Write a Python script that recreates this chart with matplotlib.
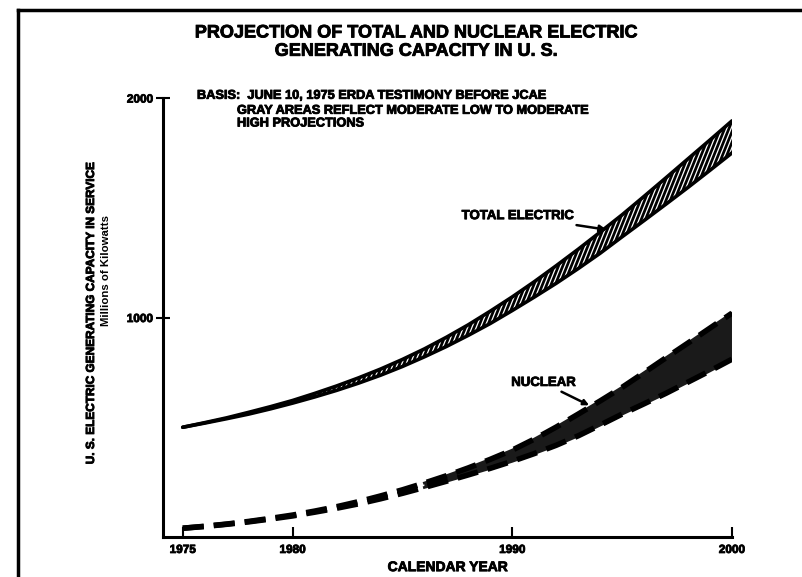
import matplotlib
matplotlib.use("Agg")
import numpy as np
import matplotlib.pyplot as plt
import matplotlib.patheffects as pe
from matplotlib.lines import Line2D
from matplotlib.collections import LineCollection

plt.rcParams["font.family"] = ["Liberation Sans", "DejaVu Sans"]
plt.rcParams["font.weight"] = "bold"

# Projection data (millions of kW)
years = list(range(1975, 2001))
total_high = [500, 521, 543, 568, 594, 622, 654, 688, 725, 765, 809, 857, 910,
              967, 1029, 1094, 1163, 1236, 1311, 1389, 1468, 1552, 1637, 1723, 1809, 1896]
total_low = [500, 519, 539, 560, 584, 610, 638, 668, 701, 737, 777, 821, 868,
             919, 973, 1032, 1093, 1156, 1223, 1293, 1368, 1442, 1517, 1593, 1671, 1750]
nuc_high = [40, 49, 59, 71, 85, 100, 118, 138, 161, 187, 215, 246, 279,
            315, 354, 396, 446, 501, 560, 620, 682, 749, 817, 884, 952, 1020]
nuc_low = [40, 48, 58, 69, 82, 96, 113, 131, 151, 174, 199, 226, 254,
           283, 313, 345, 380, 418, 461, 510, 560, 607, 655, 706, 757, 810]

xticks = [1975, 1980, 1990, 2000]
yticks = [1000, 2000]

heavy = [pe.withStroke(linewidth=0.6, foreground="black")]

fig = plt.figure(figsize=(8.02, 5.77), dpi=100)
ax = fig.add_axes([0.2032, 0.0693, 0.7095, 0.7608])

# Total electric band: black fill with steep white hatch lines
band = ax.fill_between(years, total_low, total_high, facecolor="black", linewidth=0)
offs = np.arange(-0.4, 1.05, 0.0075)
segs = [[(c, 0), (c + 0.31, 1)] for c in offs]
hatch = LineCollection(segs, colors="white", linewidths=0.9, transform=ax.transAxes)
ax.add_collection(hatch)
hatch.set_clip_path(band.get_paths()[0], ax.transData)
ax.plot(years, total_high, color="black", lw=2.6, solid_capstyle="round")
ax.plot(years, total_low, color="black", lw=2.6, solid_capstyle="round")

# Nuclear band: dense dark fill (later years) with broken edges
late = [y >= 1986 for y in years]
ax.fill_between(years, nuc_low, nuc_high, where=late, facecolor="#1a1a1a", linewidth=0)
yl = [y for y, m in zip(years, late) if m]
ax.plot(yl, [v for v, m in zip(nuc_high, late) if m], color="#1a1a1a", lw=2)
ax.plot(yl, [v for v, m in zip(nuc_low, late) if m], color="#1a1a1a", lw=2)
ax.plot(years, nuc_high, color="black", lw=4, dashes=(3.8, 1.8))
ax.plot(years, nuc_low, color="black", lw=4, dashes=(3.8, 1.8))

ax.set_xlim(1974.1, 2000)
ax.set_ylim(0, 2000)
ax.spines["top"].set_visible(False)
ax.spines["right"].set_visible(False)
ax.spines["left"].set_linewidth(2.2)
ax.spines["bottom"].set_linewidth(2.2)
ax.set_xticks(xticks)
ax.set_yticks(yticks)
ax.tick_params(axis="x", direction="in", length=7, width=1.5, labelsize=8.5, pad=5)
ax.tick_params(axis="y", direction="inout", length=10, width=1.5, labelsize=8.5, pad=2)
for lab in ax.get_xticklabels() + ax.get_yticklabels():
    lab.set_fontweight("bold")
    lab.set_path_effects(heavy)

ax.set_xlabel("CALENDAR YEAR", fontsize=10, fontweight="bold", labelpad=3,
              path_effects=heavy)

# Annotations
ax.annotate("TOTAL ELECTRIC", xy=(1994.3, 1400), xytext=(1992.8, 1462),
            fontsize=9.5, fontweight="bold", ha="right", va="center", path_effects=heavy,
            arrowprops=dict(arrowstyle="-|>", color="black", lw=1.8,
                            mutation_scale=10, shrinkA=1, shrinkB=0))
ax.annotate("NUCLEAR", xy=(1993.5, 600), xytext=(1992.9, 702),
            fontsize=9.5, fontweight="bold", ha="right", va="center", path_effects=heavy,
            arrowprops=dict(arrowstyle="-|>", color="black", lw=1.8,
                            mutation_scale=8, shrinkA=0, shrinkB=0))

# Titles and notes in figure coordinates
fig.text(0.519, 0.927, "PROJECTION OF TOTAL AND NUCLEAR ELECTRIC\nGENERATING CAPACITY IN U. S.",
         ha="center", va="center", fontsize=13, fontweight="bold", linespacing=1.1,
         path_effects=heavy)
fig.text(0.2456, 0.834, "BASIS:  JUNE 10, 1975 ERDA TESTIMONY BEFORE JCAE",
         ha="left", va="center", fontsize=9.2, fontweight="bold", path_effects=heavy)
fig.text(0.2955, 0.797, "GRAY AREAS REFLECT MODERATE LOW TO MODERATE\nHIGH PROJECTIONS",
         ha="left", va="center", fontsize=9.2, fontweight="bold", linespacing=1.08,
         path_effects=heavy)
fig.text(0.1135, 0.455, "U. S. ELECTRIC GENERATING CAPACITY IN SERVICE",
         rotation=90, ha="center", va="center", fontsize=8.5, fontweight="bold",
         path_effects=heavy)
fig.text(0.1325, 0.532, "Millions of Kilowatts",
         rotation=90, ha="center", va="center", fontsize=8.2, fontweight="bold")

# Outer frame (left and top edges)
fig.add_artist(Line2D([0.0224, 0.0224], [0.0, 0.983], color="black", lw=2.5))
fig.add_artist(Line2D([0.0224, 1.0], [0.983, 0.983], color="black", lw=2.5))

fig.savefig("out.png", dpi=100)
